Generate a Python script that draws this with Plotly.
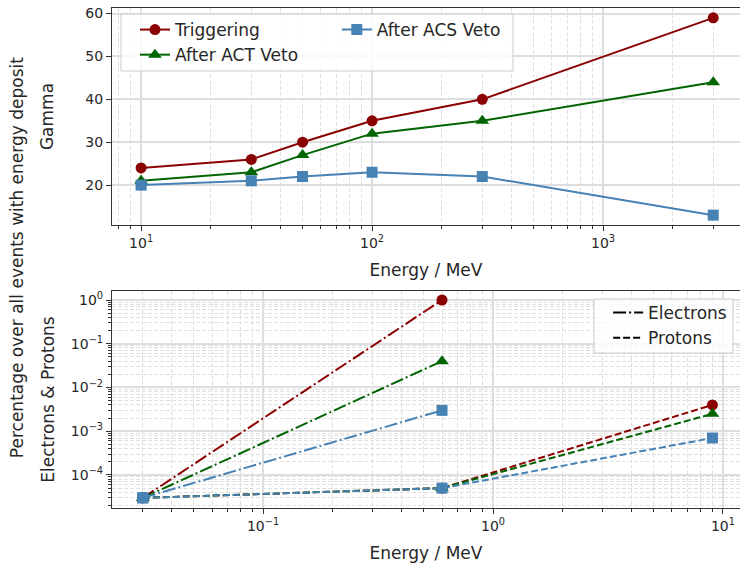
import plotly.graph_objects as go

# ---------------- data ----------------
gamma_energy = [10, 30, 50, 100, 300, 3000]
gamma_trig = [24, 26, 30, 35, 40, 59]
gamma_act = [21, 23, 27, 32, 35, 44]
gamma_acs = [20, 21, 22, 23, 22, 13]

elec_energy = [0.03, 0.6]
elec_trig = [3e-5, 1.0]
elec_act = [3e-5, 0.04]
elec_acs = [3e-5, 0.003]

prot_energy = [0.03, 0.6, 9]
prot_trig = [3e-5, 5e-5, 4e-3]
prot_act = [3e-5, 5e-5, 2.5e-3]
prot_acs = [3e-5, 5e-5, 7e-4]

series_names = ["Triggering", "After ACT Veto", "After ACS Veto"]
top_xtick_vals = [10, 100, 1000]
top_xtick_text = ["10<sup>1</sup>", "10<sup>2</sup>", "10<sup>3</sup>"]
top_ytick_vals = [20, 30, 40, 50, 60]
bot_xtick_vals = [0.1, 1, 10]
bot_xtick_text = ["10<sup>−1</sup>", "10<sup>0</sup>", "10<sup>1</sup>"]
bot_ytick_vals = [1e-4, 1e-3, 1e-2, 1e-1, 1]
bot_ytick_text = ["10<sup>−4</sup>", "10<sup>−3</sup>", "10<sup>−2</sup>", "10<sup>−1</sup>", "10<sup>0</sup>"]

# ---------------- style ----------------
colors = ["#8b0000", "#006400", "#4682b4"]
symbols = ["circle", "triangle-up", "square"]
msizes = [11, 12, 11]
FONT = "DejaVu Sans"
TXT = "#262626"
GRID = "#dedede"
MINGRID = "#e0e0e0"
SPINE = "#333333"
DASHDOT = "13px,3px,2px,3px"
DASH = "7px,3px"
LBL = 17
TICK = 14


def minor_vals(lo_exp, hi_exp):
    return [m * 10 ** e for e in range(lo_exp, hi_exp + 1) for m in range(2, 10)]


fig = go.Figure()

gamma_sets = [gamma_trig, gamma_act, gamma_acs]
legends = ["legend", "legend", "legend2"]
for i in range(3):
    fig.add_trace(go.Scatter(
        x=gamma_energy, y=gamma_sets[i], name=series_names[i], mode="lines+markers",
        line=dict(color=colors[i], width=2),
        marker=dict(color=colors[i], symbol=symbols[i], size=msizes[i]),
        legend=legends[i], xaxis="x", yaxis="y"))

elec_sets = [elec_trig, elec_act, elec_acs]
prot_sets = [prot_trig, prot_act, prot_acs]
for i in range(3):
    fig.add_trace(go.Scatter(
        x=elec_energy, y=elec_sets[i], mode="lines+markers", showlegend=False,
        line=dict(color=colors[i], width=2, dash=DASHDOT),
        marker=dict(color=colors[i], symbol=symbols[i], size=msizes[i]),
        xaxis="x2", yaxis="y2"))
    fig.add_trace(go.Scatter(
        x=prot_energy, y=prot_sets[i], mode="lines+markers", showlegend=False,
        line=dict(color=colors[i], width=2, dash=DASH),
        marker=dict(color=colors[i], symbol=symbols[i], size=msizes[i]),
        xaxis="x2", yaxis="y2"))

fig.add_trace(go.Scatter(x=[None], y=[None], mode="lines", name="Electrons",
                         line=dict(color="black", width=2, dash=DASHDOT),
                         legend="legend3", xaxis="x2", yaxis="y2"))
fig.add_trace(go.Scatter(x=[None], y=[None], mode="lines", name="Protons",
                         line=dict(color="black", width=2, dash=DASH),
                         legend="legend3", xaxis="x2", yaxis="y2"))

axis_common = dict(
    showline=True, linecolor=SPINE, linewidth=1.2, automargin=False,
    ticks="outside", ticklen=5, tickwidth=1, tickcolor=SPINE,
    tickfont=dict(family=FONT, size=TICK, color=TXT),
    showgrid=True, gridcolor=GRID, gridwidth=1.5, zeroline=False,
)
minor_common = dict(tickmode="array", ticks="outside", ticklen=3, tickcolor=SPINE,
                    showgrid=True, gridcolor=MINGRID, griddash="4px,2px", gridwidth=1.2)

fig.update_layout(
    width=740, height=563,
    margin=dict(l=112, r=0, t=8, b=55),
    paper_bgcolor="white", plot_bgcolor="white",
    font=dict(family=FONT, size=LBL, color=TXT),
    xaxis=dict(**axis_common, type="log", range=[0.874, 3.593], domain=[0, 1],
               anchor="y", mirror=True,
               tickmode="array", tickvals=top_xtick_vals, ticktext=top_xtick_text,
               minor=dict(**minor_common, tickvals=minor_vals(0, 3)),
               title=dict(text="Energy / MeV", font=dict(size=LBL), standoff=14)),
    yaxis=dict(**axis_common, range=[10.7, 61.3], domain=[0.566, 1], anchor="x",
               tickmode="array", tickvals=top_ytick_vals,
               title=dict(text="Gamma", font=dict(size=LBL), standoff=27)),
    xaxis2=dict(**axis_common, type="log", range=[-1.657, 1.074], domain=[0, 1],
                anchor="y2", mirror=True,
                tickmode="array", tickvals=bot_xtick_vals, ticktext=bot_xtick_text,
                minor=dict(**minor_common, tickvals=minor_vals(-2, 1)),
                title=dict(text="Energy / MeV", font=dict(size=LBL), standoff=14)),
    yaxis2=dict(**axis_common, type="log", range=[-4.755, 0.206], domain=[0, 0.434],
                anchor="x2",
                tickmode="array", tickvals=bot_ytick_vals, ticktext=bot_ytick_text,
                minor=dict(**minor_common, tickvals=minor_vals(-5, 0)),
                title=dict(text="Electrons &amp; Protons", font=dict(size=LBL), standoff=11)),
    legend=dict(x=0.0366, y=0.992, xanchor="left", yanchor="top",
                bgcolor="rgba(0,0,0,0)", borderwidth=0,
                font=dict(family=FONT, size=LBL, color=TXT)),
    legend2=dict(x=0.358, y=0.992, xanchor="left", yanchor="top",
                 bgcolor="rgba(0,0,0,0)", borderwidth=0,
                 font=dict(family=FONT, size=LBL, color=TXT)),
    legend3=dict(x=0.790, y=0.426, xanchor="left", yanchor="top",
                 bgcolor="rgba(0,0,0,0)", borderwidth=0,
                 font=dict(family=FONT, size=LBL, color=TXT)),
    shapes=[
        dict(type="rect", xref="paper", yref="paper", x0=0.0143, x1=0.6385,
             y0=0.874, y1=0.988, line=dict(color="#cccccc", width=1),
             fillcolor="rgba(255,255,255,0.8)", layer="above"),
        dict(type="rect", xref="paper", yref="paper", x0=0.7675, x1=0.9889,
             y0=0.31, y1=0.418, line=dict(color="#cccccc", width=1),
             fillcolor="rgba(255,255,255,0.8)", layer="above"),
    ],
    annotations=[
        dict(text="Percentage over all events with energy deposit", xref="paper",
             yref="paper", x=-0.151, y=0.5, textangle=-90, showarrow=False,
             xanchor="center", yanchor="middle",
             font=dict(family=FONT, size=LBL, color=TXT)),
    ],
)

fig.write_html(
    "out.html",
    config={"displayModeBar": False},
    post_script="document.body.style.margin='0';document.body.style.padding='0';"
                "document.body.style.overflow='hidden';",
)
